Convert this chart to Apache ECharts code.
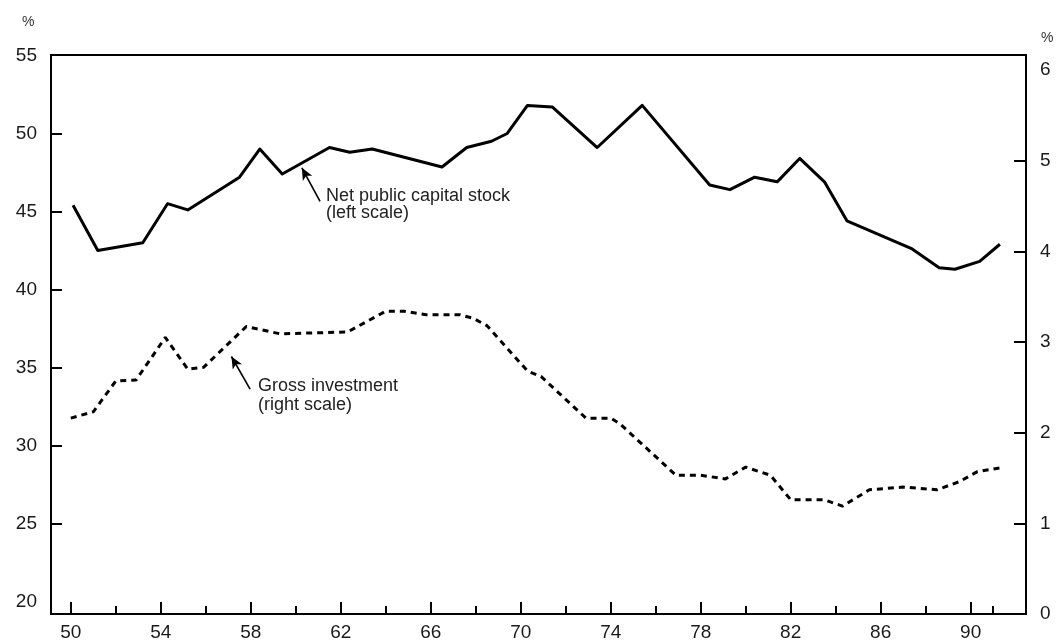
<!DOCTYPE html>
<html>
<head>
<meta charset="utf-8">
<script src="https://cdn.jsdelivr.net/npm/echarts@6/dist/echarts.min.js"></script>
<style>
html,body{margin:0;padding:0;background:#fff;}
#c{width:1057px;height:642px;}
</style>
</head>
<body>
<div id="c"></div>
<script>
// Net public capital stock (left scale, %)
var netYears  = [50.1, 51.2, 53.2, 54.3, 55.2, 57.5, 58.4, 59.4, 61.5, 62.4, 63.4, 66.5, 67.6, 68.7, 69.4, 70.3, 71.4, 73.4, 75.4, 78.4, 79.3, 80.4, 81.4, 82.4, 83.5, 84.5, 87.4, 88.6, 89.3, 90.4, 91.3];
var netValues = [45.4, 42.5, 43.0, 45.5, 45.1, 47.2, 49.0, 47.4, 49.1, 48.8, 49.0, 47.85, 49.1, 49.5, 50.0, 51.8, 51.7, 49.1, 51.8, 46.7, 46.4, 47.2, 46.9, 48.4, 46.9, 44.4, 42.6, 41.4, 41.3, 41.8, 42.9];
// Gross investment (right scale, %)
var invYears  = [50.0, 51.0, 52.0, 52.9, 54.2, 55.2, 55.9, 57.8, 59.3, 62.3, 64.0, 64.8, 65.8, 67.3, 67.9, 68.5, 70.3, 70.9, 72.9, 74.0, 74.4, 76.9, 78.0, 79.1, 80.0, 81.1, 82.0, 83.5, 84.3, 85.5, 87.0, 88.5, 89.5, 90.3, 91.3];
var invValues = [2.16, 2.23, 2.57, 2.58, 3.05, 2.70, 2.72, 3.17, 3.09, 3.11, 3.34, 3.34, 3.30, 3.30, 3.26, 3.18, 2.68, 2.62, 2.16, 2.16, 2.10, 1.53, 1.53, 1.49, 1.62, 1.53, 1.26, 1.26, 1.19, 1.37, 1.40, 1.37, 1.46, 1.57, 1.61];
// Tick labels
var xMajorTicks = [50, 54, 58, 62, 66, 70, 74, 78, 82, 86, 90];
var xMinorTicks = [52, 56, 60, 64, 68, 72, 76, 80, 84, 88, 91];
var leftTicks  = [20, 25, 30, 35, 40, 45, 50, 55];
var leftInnerTicks = [25, 30, 35, 40, 45, 50];
var rightTicks = [0, 1, 2, 3, 4, 5, 6];
var rightInnerTicks = [1, 2, 3, 4, 5];
// Annotation texts
var netLabel = ['Net public capital stock', '(left scale)'];
var invLabel = ['Gross investment', '(right scale)'];

function pairs(xs, ys){ return xs.map(function(x,i){ return [x, ys[i]]; }); }

var tickFont = "'Liberation Sans', Arial, sans-serif";
var textFont = "'Liberation Sans', Arial, sans-serif";
var ink = '#000';

var chart = echarts.init(document.getElementById('c'), null, {renderer:'canvas'});
chart.setOption({
  animation: false,
  backgroundColor: '#fff',
  grid: {left: 51, right: 31, top: 55, bottom: 28, show: true, borderColor: ink, borderWidth: 2, backgroundColor: 'transparent'},
  xAxis: [
    {
      type: 'value', min: 49.12, max: 92.46, position: 'bottom',
      axisLine: {show: true, lineStyle: {color: ink, width: 2}},
      axisTick: {show: true, inside: true, length: 12, lineStyle: {color: ink, width: 2}, customValues: xMajorTicks},
      axisLabel: {show: true, customValues: xMajorTicks, margin: 9, color: '#1a1a1a', fontSize: 19, fontFamily: tickFont, formatter: function(v){ return String(v); }},
      splitLine: {show: false}
    },
    {
      type: 'value', min: 49.12, max: 92.46, position: 'bottom',
      axisLine: {show: false},
      axisTick: {show: true, inside: true, length: 8, lineStyle: {color: ink, width: 2}, customValues: xMinorTicks},
      axisLabel: {show: false},
      splitLine: {show: false}
    }
  ],
  yAxis: [
    {
      type: 'value', min: 19.2, max: 55.03, position: 'left',
      axisLine: {show: true, lineStyle: {color: ink, width: 2}},
      axisTick: {show: true, inside: true, length: 11, lineStyle: {color: ink, width: 2}, customValues: leftInnerTicks},
      axisLabel: {show: true, customValues: leftTicks, margin: 14, color: '#1a1a1a', fontSize: 19, fontFamily: tickFont, formatter: function(v){ return String(v); }},
      splitLine: {show: false}
    },
    {
      type: 'value', min: 0, max: 6.165, position: 'right',
      axisLine: {show: true, lineStyle: {color: ink, width: 2}},
      axisTick: {show: true, inside: true, length: 12, lineStyle: {color: ink, width: 2}, customValues: rightInnerTicks},
      axisLabel: {show: true, customValues: rightTicks, margin: 14, color: '#1a1a1a', fontSize: 19, fontFamily: tickFont, formatter: function(v){ return String(v); }},
      splitLine: {show: false}
    }
  ],
  series: [
    {
      name: 'Net public capital stock', type: 'line', xAxisIndex: 0, yAxisIndex: 0,
      data: pairs(netYears, netValues), showSymbol: false, symbol: 'none',
      lineStyle: {color: ink, width: 3, join: 'round'},
      markLine: {
        silent: true, symbol: ['none', 'arrow'], symbolSize: [8, 12],
        label: {show: false},
        lineStyle: {color: ink, width: 1.6, type: 'solid'},
        data: [[{coord: [61.08, 45.65]}, {coord: [60.27, 47.8]}]]
      }
    },
    {
      name: 'Gross investment', type: 'line', xAxisIndex: 0, yAxisIndex: 1,
      data: pairs(invYears, invValues), showSymbol: false, symbol: 'none',
      lineStyle: {color: ink, width: 3, type: [6, 5], cap: 'butt'},
      markLine: {
        silent: true, symbol: ['none', 'arrow'], symbolSize: [8, 12],
        label: {show: false},
        lineStyle: {color: ink, width: 1.6, type: 'solid'},
        data: [[{coord: [57.97, 2.48]}, {coord: [57.14, 2.84]}]]
      }
    }
  ],
  graphic: [
    {type: 'text', left: 326, top: 187, style: {text: netLabel.join('\n'), fill: '#222', fontSize: 18, fontFamily: textFont, lineHeight: 17}},
    {type: 'text', left: 258, top: 377, style: {text: invLabel.join('\n'), fill: '#222', fontSize: 18, fontFamily: textFont, lineHeight: 19}},
    {type: 'text', left: 22, top: 15, style: {text: '%', fill: '#333', fontSize: 14, fontFamily: textFont}},
    {type: 'text', left: 1041, top: 31, style: {text: '%', fill: '#333', fontSize: 14, fontFamily: textFont}}
  ]
});
</script>
</body>
</html>
